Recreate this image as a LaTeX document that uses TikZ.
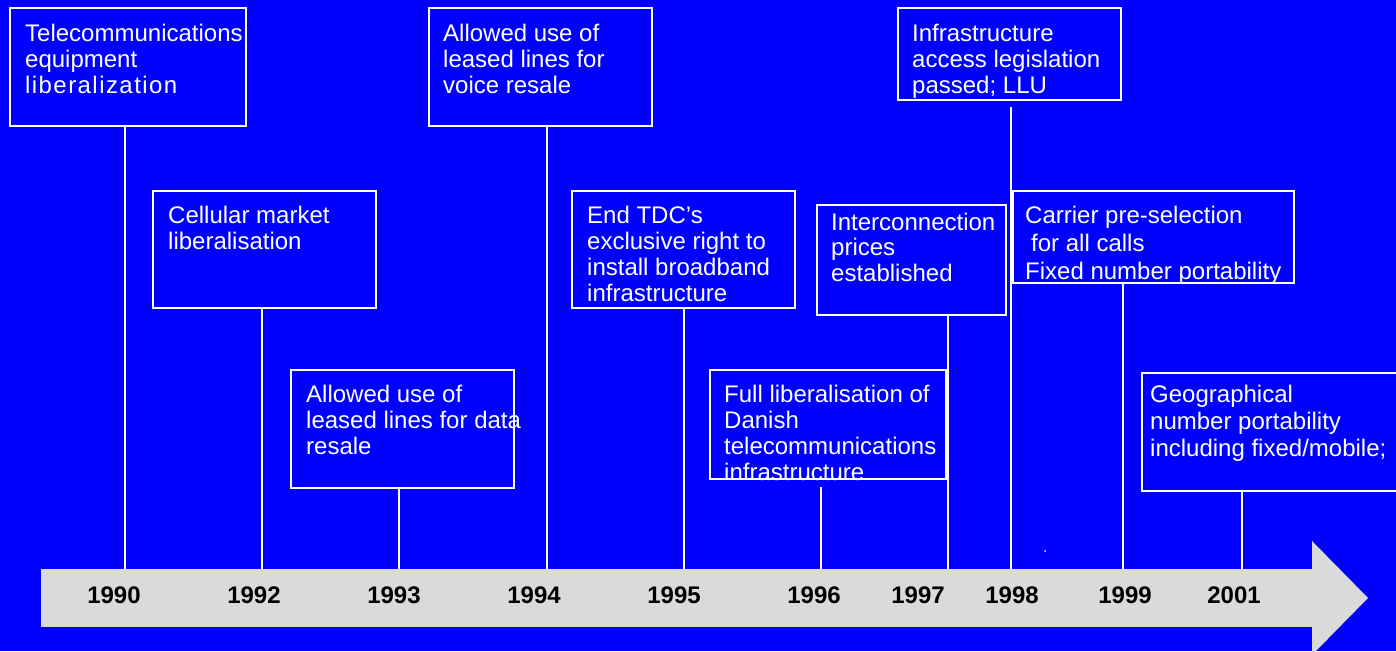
\documentclass[tikz,border=0pt]{standalone}
\usepackage{fontspec}
\setmainfont{Liberation Sans}
\definecolor{bgblue}{HTML}{0000FF}
\definecolor{bargray}{HTML}{DADADA}
\newcommand\boxlines[2]{\vtop{\baselineskip=#1\lineskiplimit=-100pt\lineskip=0pt\halign{##\hfil\cr#2\crcr}}}
\begin{document}
\begin{tikzpicture}[x=1pt,y=-1pt,
  evbox/.style={draw=white, line width=2pt, fill=bgblue, inner sep=0pt, outer sep=0pt, anchor=north west, rectangle},
  evtext/.style={text=white, font=\fontsize{24}{26}\selectfont, inner sep=0pt, anchor=base west},
  yearlbl/.style={font=\fontsize{24}{28}\selectfont\bfseries, text=black, anchor=base, inner sep=0pt},
  conn/.style={draw=white, line width=2pt}]
\useasboundingbox (0,0) rectangle (1396,651);
\clip (0,0) rectangle (1396,651);
\fill[bgblue] (0,0) rectangle (1396,651);
% timeline bar
\fill[bargray] (41,569) rectangle (1313,627);
\fill[bargray] (1312,541) -- (1368,598) -- (1312,655) -- cycle;
% tick coordinates on the bar
\coordinate (t1990) at (125,569);
\coordinate (t1992) at (262,569);
\coordinate (t1993) at (399,569);
\coordinate (t1994) at (547,569);
\coordinate (t1995) at (684,569);
\coordinate (t1996) at (821,569);
\coordinate (t1997) at (948,569);
\coordinate (t1998) at (1011,569);
\coordinate (t1999) at (1123,569);
\coordinate (t2001) at (1242,569);
\coordinate (s1996) at (821,487);
\coordinate (s1998) at (1011,107);
% boxes
\node[evbox, minimum width=236pt, minimum height=118pt] (b1) at (10,8) {};
\node[evbox, minimum width=223pt, minimum height=117pt] (b2) at (153,191) {};
\node[evbox, minimum width=223pt, minimum height=118pt] (b3) at (291,370) {};
\node[evbox, minimum width=223pt, minimum height=118pt] (b4) at (429,8) {};
\node[evbox, minimum width=223pt, minimum height=117pt] (b5) at (572,191) {};
\node[evbox, minimum width=236pt, minimum height=109pt] (b6) at (710,370) {};
\node[evbox, minimum width=189pt, minimum height=110pt] (b7) at (817,205) {};
\node[evbox, minimum width=223pt, minimum height=92pt] (b8) at (898,8) {};
\node[evbox, minimum width=281pt, minimum height=92pt] (b9) at (1013,191) {};
\node[evbox, minimum width=270pt, minimum height=118pt] (b10) at (1142,373) {};
% connectors
\draw[conn] (b1.south -| t1990) -- (t1990);
\draw[conn] (b2.south -| t1992) -- (t1992);
\draw[conn] (b3.south -| t1993) -- (t1993);
\draw[conn] (b4.south -| t1994) -- (t1994);
\draw[conn] (b5.south -| t1995) -- (t1995);
\draw[conn] (s1996) -- (t1996);
\draw[conn] (b7.south -| t1997) -- (t1997);
\draw[conn] (s1998) -- (t1998);
\draw[conn] (b9.south -| t1999) -- (t1999);
\draw[conn] (b10.south -| t2001) -- (t2001);
% texts
\node[evtext] (x1) at (25,41) {\boxlines{26pt}{Telecommunications\cr equipment\cr {\addfontfeature{LetterSpace=6}liberalization}}};
\node[evtext] (x2) at (168,223) {\boxlines{26pt}{Cellular market\cr liberalisation}};
\node[evtext] (x3) at (306,402) {\boxlines{26pt}{Allowed use of\cr leased lines for data\cr resale}};
\node[evtext] (x4) at (443,41) {\boxlines{26pt}{Allowed use of\cr leased lines for\cr voice resale}};
\node[evtext] (x5) at (587,223) {\boxlines{26pt}{End TDC’s\cr exclusive right to\cr install broadband\cr infrastructure}};
\node[evtext] (x6) at (724,402) {\boxlines{26pt}{Full liberalisation of\cr Danish\cr telecommunications\cr infrastructure}};
\node[evtext] (x7) at (831,230) {\boxlines{25.5pt}{Interconnection\cr prices\cr established}};
\node[evtext] (x8) at (912,41) {\boxlines{26pt}{Infrastructure\cr access legislation\cr passed; LLU}};
\node[evtext] (x9) at (1025,223) {\boxlines{28pt}{Carrier pre-selection\cr \hspace*{6pt}for all calls\cr Fixed number portability}};
\node[evtext] (x10) at (1150,402) {\boxlines{27pt}{Geographical\cr number portability\cr including fixed/mobile;}};
% years
\node[yearlbl] (y1990) at (114,603) {1990};
\node[yearlbl] (y1992) at (254,603) {1992};
\node[yearlbl] (y1993) at (394,603) {1993};
\node[yearlbl] (y1994) at (534,603) {1994};
\node[yearlbl] (y1995) at (674,603) {1995};
\node[yearlbl] (y1996) at (814,603) {1996};
\node[yearlbl] (y1997) at (918,603) {1997};
\node[yearlbl] (y1998) at (1012,603) {1998};
\node[yearlbl] (y1999) at (1125,603) {1999};
\node[yearlbl] (y2001) at (1234,603) {2001};
\fill[white] (1045,551) circle (1pt);
\end{tikzpicture}
\end{document}
